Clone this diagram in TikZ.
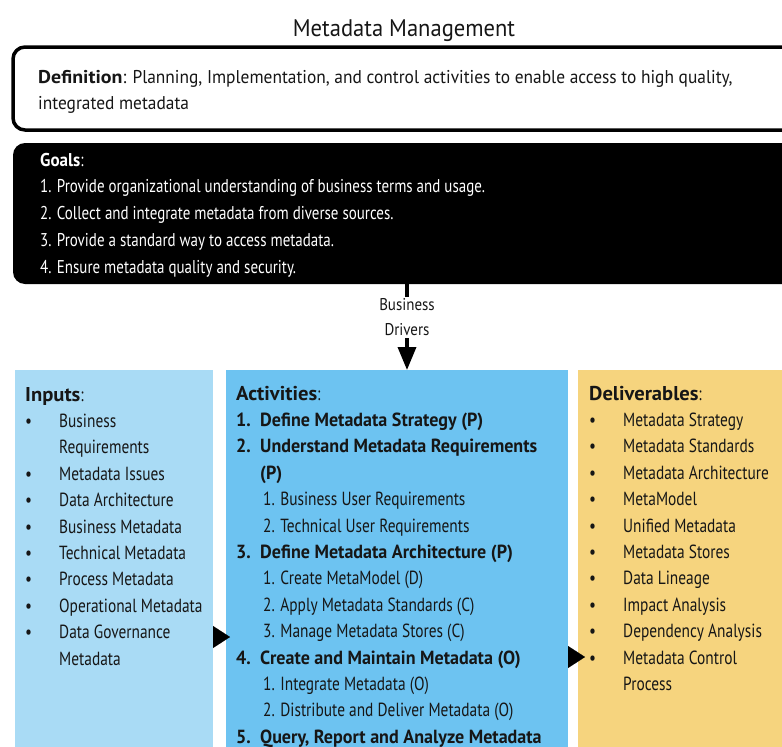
\documentclass[tikz,border=0pt]{standalone}
\usepackage{fontspec}
\setmainfont{PT Sans}
\newfontfamily\colfont[FakeStretch=0.81]{PT Sans}
\newfontfamily\goalfont[FakeStretch=0.81]{PT Sans}
\newfontfamily\goalbold[FakeStretch=0.92]{PT Sans}
\newfontfamily\titlefont[FakeStretch=0.94]{PT Sans}
\newfontfamily\drvfont[FakeStretch=0.88]{PT Sans}
\newfontfamily\deffont[FakeStretch=0.94]{PT Sans}
\newfontfamily\defbold[FakeStretch=1.08]{PT Sans}
\newfontfamily\actbold[FakeStretch=0.95]{PT Sans}
\newfontfamily\headfont[FakeStretch=1.03]{PT Sans}
\newcommand\hdr[1]{{\fontsize{20}{26.4}\selectfont\headfont\bfseries #1}}
\newcommand\ab[1]{{\actbold\bfseries #1}}
\usetikzlibrary{arrows.meta}
\definecolor{inblue}{HTML}{A9DBF5}
\definecolor{actblue}{HTML}{6DC3F1}
\definecolor{delyel}{HTML}{F6D47E}
\definecolor{ink}{HTML}{161616}
\tikzset{
  box/.style={anchor=north west, inner sep=0pt, outer sep=0pt},
  body/.style={font=\fontsize{19}{26.4}\selectfont\colfont, text=ink, inner sep=0pt, anchor=base west},
  drv/.style={line width=3.5pt, -{Triangle[length=23pt,width=18pt]}},
  sidearrow/.style={line width=0.1pt, -{Triangle[length=17pt,width=22pt]}},
}
\begin{document}
\begin{tikzpicture}[x=1pt,y=-1pt]
\useasboundingbox (0,0) rectangle (782,747);
\clip (0,0) rectangle (782,747);
\fill[white] (0,0) rectangle (782,747);
% title
\node[font=\fontsize{24}{28}\selectfont\titlefont, text=ink, anchor=base, inner sep=0pt] (title) at (404,36) {Metadata Management};
% definition box
\node[box, draw=black, line width=3.5pt, rounded corners=12pt, fill=white, minimum width=790pt, minimum height=83pt] (def) at (13,47) {};
\node[body, font=\fontsize{18.5}{26}\selectfont\deffont] (deftext) at (38,83) {\begin{tabular}[t]{@{}l@{}}
{\defbold\bfseries Definition}: Planning, Implementation, and control activities to enable access to high quality,\\
integrated metadata\end{tabular}};
% goals box
\node[box, fill=black, rounded corners=12pt, minimum width=790pt, minimum height=141pt] (goals) at (13,143) {};
\node[body, text=white, font=\fontsize{18.5}{26.8}\selectfont\goalfont] (goaltext) at (40,166) {\begin{tabular}[t]{@{}l@{}}
{\goalbold\bfseries Goals}:\\
1. Provide organizational understanding of business terms and usage.\\
2. Collect and integrate metadata from diverse sources.\\
3. Provide a standard way to access metadata.\\
4. Ensure metadata quality and security.\end{tabular}};
% columns
\node[box, fill=inblue, minimum width=198pt, minimum height=400pt] (in) at (15,370) {};
\node[box, fill=actblue, minimum width=342pt, minimum height=400pt] (act) at (226,370) {};
\node[box, fill=delyel, minimum width=220pt, minimum height=400pt] (del) at (578,370) {};
% business drivers
\coordinate (sx) at (407,0);
\draw[drv] (goals.south -| sx) -- node[pos=0.39, fill=white, inner sep=2pt, font=\fontsize{17}{25}\selectfont\drvfont, text=ink, align=center] (bd) {Business\\Drivers} (act.north -| sx);
% side arrows
\coordinate (lt) at (0,637);
\coordinate (rt) at (0,657);
\draw[sidearrow, shorten >=-4pt] (in.east |- lt) -- (act.west |- lt);
\draw[sidearrow, shorten >=-7pt] (act.east |- rt) -- (del.west |- rt);
% inputs
\node[body] (intext) at (25,401) {\begin{tabular}[t]{@{}p{34pt}@{}l@{}}
\multicolumn{2}{@{}l@{}}{\hdr{Inputs}:}\\
\textbullet & Business\\
 & Requirements\\
\textbullet & Metadata Issues\\
\textbullet & Data Architecture\\
\textbullet & Business Metadata\\
\textbullet & Technical Metadata\\
\textbullet & Process Metadata\\
\textbullet & Operational Metadata\\
\textbullet & Data Governance\\
 & Metadata
\end{tabular}};
% activities
\node[body] (acttext) at (236,400) {\begin{tabular}[t]{@{}p{24pt}@{}l@{}}
\multicolumn{2}{@{}l@{}}{\hdr{Activities}:}\\
\ab{1.} & \ab{Define Metadata Strategy (P)}\\
\ab{2.} & \ab{Understand Metadata Requirements}\\
 & \ab{(P)}\\
 & \hspace{3pt}1. Business User Requirements\\
 & \hspace{3pt}2. Technical User Requirements\\
\ab{3.} & \ab{Define Metadata Architecture (P)}\\
 & \hspace{3pt}1. Create MetaModel (D)\\
 & \hspace{3pt}2. Apply Metadata Standards (C)\\
 & \hspace{3pt}3. Manage Metadata Stores (C)\\
\ab{4.} & \ab{Create and Maintain Metadata (O)}\\
 & \hspace{3pt}1. Integrate Metadata (O)\\
 & \hspace{3pt}2. Distribute and Deliver Metadata (O)\\
\ab{5.} & \ab{Query, Report and Analyze Metadata}
\end{tabular}};
% deliverables
\node[body] (deltext) at (589,400) {\begin{tabular}[t]{@{}p{34pt}@{}l@{}}
\multicolumn{2}{@{}l@{}}{\hdr{Deliverables}:}\\
\textbullet & Metadata Strategy\\
\textbullet & Metadata Standards\\
\textbullet & Metadata Architecture\\
\textbullet & MetaModel\\
\textbullet & Unified Metadata\\
\textbullet & Metadata Stores\\
\textbullet & Data Lineage\\
\textbullet & Impact Analysis\\
\textbullet & Dependency Analysis\\
\textbullet & Metadata Control\\
 & Process
\end{tabular}};
\end{tikzpicture}
\end{document}
